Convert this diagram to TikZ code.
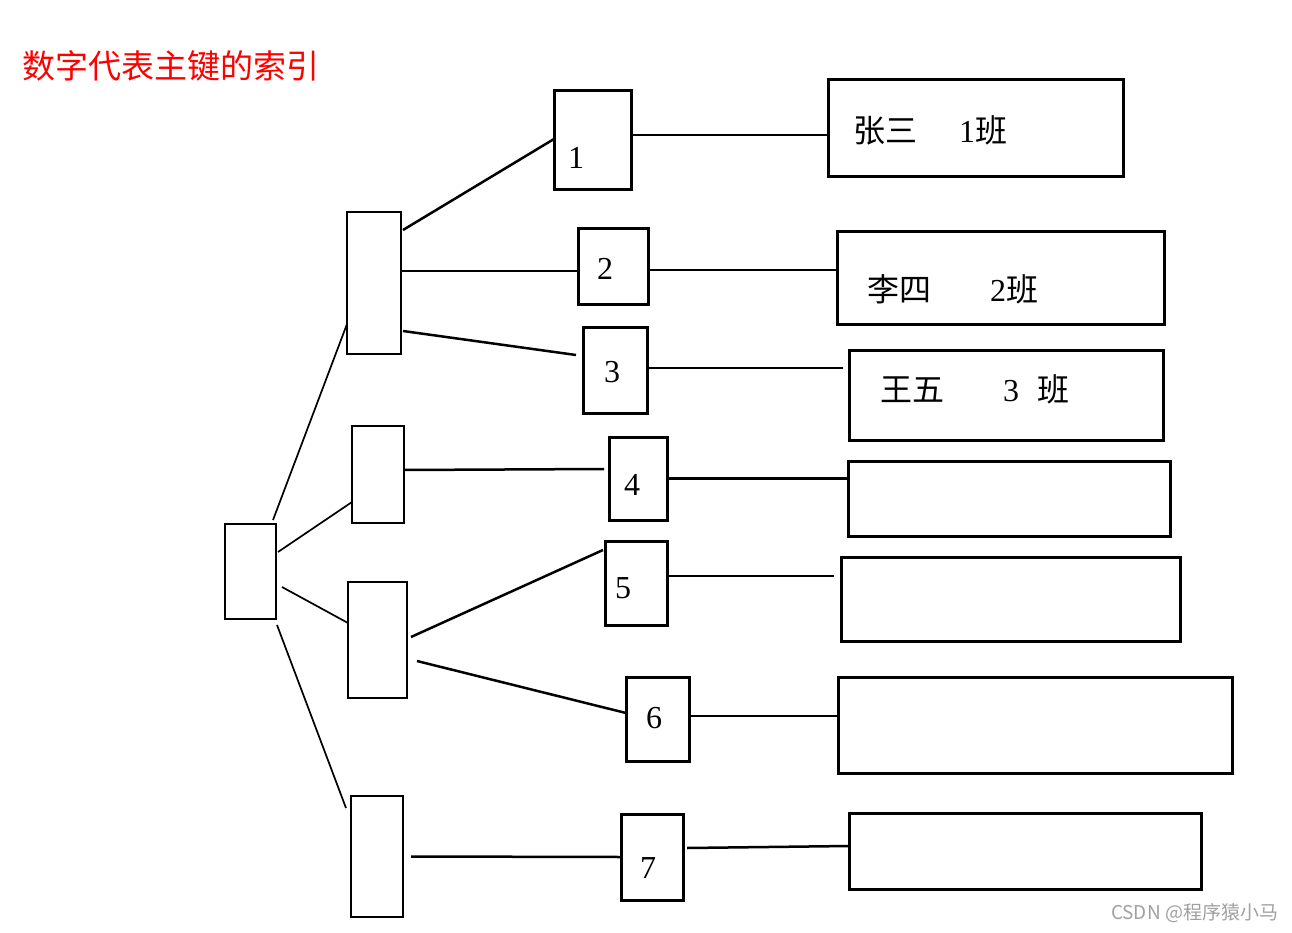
\documentclass[tikz,border=0pt]{standalone}
\usepackage{fontspec}
\usepackage{xcolor}
\usepackage{tikz}
\newfontfamily\cjk{Noto Sans CJK SC}
\newfontfamily\digits{Liberation Serif}
\definecolor{titlered}{RGB}{255,0,0}
\definecolor{markgray}{RGB}{160,160,160}

\begin{document}
\begin{tikzpicture}[
    x=1pt, y=-1pt,
    every node/.style={inner sep=0pt, outer sep=0pt},
    rootbox/.style={draw, line width=1.7pt},
    midbox/.style={draw, line width=2pt},
    keybox/.style={draw, line width=3pt},
    recbox/.style={draw, line width=3pt},
    link/.style={line width=2.5pt},
    thinlink/.style={line width=1.7pt},
    num/.style={font=\digits\fontsize{32}{36}\selectfont},
    rec/.style={anchor=west, font=\digits\fontsize{32}{36}\selectfont}
]
\useasboundingbox (0,0) rectangle (1292,933);

\node[anchor=west, text=titlered, font=\cjk\fontsize{33}{38}\selectfont] (title) at (22,66) {数字代表主键的索引};

\node[rootbox, minimum width=51pt, minimum height=95pt] (root) at (250.5,571.5) {};

\node[midbox, minimum width=54pt, minimum height=142pt] (mid1) at (374,283) {};
\node[midbox, minimum width=52pt, minimum height=97pt] (mid2) at (378,474.5) {};
\node[midbox, minimum width=59pt, minimum height=116pt] (mid3) at (377.5,640) {};
\node[midbox, minimum width=52pt, minimum height=121pt] (mid4) at (377,856.5) {};

\node[keybox, minimum width=77pt, minimum height=99pt] (key1) at (592.5,140.5) {};
\node[keybox, minimum width=70pt, minimum height=75pt] (key2) at (613,266.5) {};
\node[keybox, minimum width=64pt, minimum height=86pt] (key3) at (615,370) {};
\node[keybox, minimum width=58pt, minimum height=83pt] (key4) at (638,478.5) {};
\node[keybox, minimum width=62pt, minimum height=84pt] (key5) at (636,583) {};
\node[keybox, minimum width=63pt, minimum height=84pt] (key6) at (657.5,719) {};
\node[keybox, minimum width=62pt, minimum height=86pt] (key7) at (652,857) {};

\node[num] (n1) at (576,158) {1};
\node[num] (n2) at (605,269) {2};
\node[num] (n3) at (612,372) {3};
\node[num] (n4) at (632,485) {4};
\node[num] (n5) at (623,588) {5};
\node[num] (n6) at (654,718) {6};
\node[num] (n7) at (648,868) {7};

\node[recbox, minimum width=295pt, minimum height=97pt] (rec1) at (975.5,128.5) {};
\node[recbox, minimum width=327pt, minimum height=92pt] (rec2) at (1000.5,278) {};
\node[recbox, minimum width=314pt, minimum height=90pt] (rec3) at (1006,395) {};
\node[recbox, minimum width=322pt, minimum height=75pt] (rec4) at (1009,498.5) {};
\node[recbox, minimum width=339pt, minimum height=84pt] (rec5) at (1010.5,599) {};
\node[recbox, minimum width=394pt, minimum height=96pt] (rec6) at (1035,725) {};
\node[recbox, minimum width=352pt, minimum height=76pt] (rec7) at (1025,851) {};

\node[rec] (t1) at (853,130) {{\cjk 张三}\hspace{42pt}1{\cjk 班}};
\node[rec] (t2) at (867,289) {{\cjk 李四}\hspace{59pt}2{\cjk 班}};
\node[rec] (t3) at (880,389) {{\cjk 王五}\hspace{59pt}3\hspace{18pt}{\cjk 班}};

\draw[thinlink] ([xshift=-3pt,yshift=4pt]root.north east) -- ([yshift=-41pt]mid1.west);
\draw[thinlink] ([xshift=2pt,yshift=19.5pt]root.east) -- ([yshift=-27.5pt]mid2.west);
\draw[thinlink] ([xshift=6pt,yshift=-15.5pt]root.east) -- ([yshift=17pt]mid3.west);
\draw[thinlink] ([xshift=1pt,yshift=-6pt]root.south east) -- ([xshift=-5pt,yshift=-12pt]mid4.north west);

\draw[link] ([xshift=2pt,yshift=-18pt]mid1.north east) -- ([yshift=1.5pt]key1.west);
\draw[link] ([yshift=12pt]mid1.east) -- ([yshift=12pt]mid1.east -| key2.west);
\draw[link] ([xshift=2pt,yshift=-48pt]mid1.east) -- ([xshift=-7pt,yshift=15pt]key3.west);
\draw[link] ([yshift=4.5pt]mid2.east) -- ([xshift=-5pt,yshift=9.5pt]key4.west);
\draw[link] ([xshift=4pt,yshift=3pt]mid3.east) -- ([xshift=-2pt,yshift=33pt]key5.west);
\draw[link] ([xshift=10pt,yshift=-21pt]mid3.east) -- ([yshift=6pt]key6.west);
\draw[link] ([xshift=8pt]mid4.east) -- (key7.west);

\draw[link] ([yshift=5.5pt]key1.east) -- ([yshift=5.5pt]key1.east -| rec1.west);
\draw[link] ([yshift=-3.5pt]key2.east) -- ([yshift=-3.5pt]key2.east -| rec2.west);
\draw[link] ([yshift=2pt]key3.east) -- ([xshift=-6pt,yshift=2pt]key3.east -| rec3.west);
\draw[link] (key4.east) -- (key4.east -| rec4.west);
\draw[link] ([yshift=7pt]key5.east) -- ([xshift=-7pt,yshift=7pt]key5.east -| rec5.west);
\draw[link] ([yshift=3pt]key6.east) -- ([yshift=3pt]key6.east -| rec6.west);
\draw[link] ([xshift=4pt,yshift=9pt]key7.east) -- ([yshift=5pt]rec7.west);

\node[anchor=east, text=markgray, font=\cjk\fontsize{19}{22}\selectfont] (mark) at (1278,913) {CSDN @程序猿小马};
\end{tikzpicture}
\end{document}
